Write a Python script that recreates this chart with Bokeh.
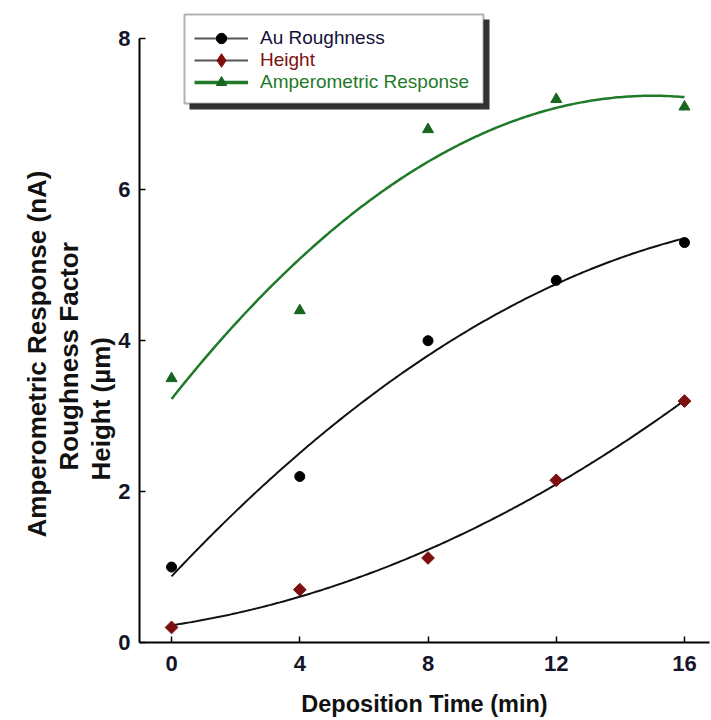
import numpy as np
from bokeh.plotting import figure
from bokeh.models import Range1d, Legend, LegendItem, BoxAnnotation, FixedTicker, Title
from bokeh.embed import file_html
from bokeh.resources import INLINE

# ---- data ----
deposition_time = [0, 4, 8, 12, 16]
au_roughness = [1.0, 2.2, 4.0, 4.8, 5.3]
height = [0.2, 0.7, 1.12, 2.15, 3.2]
amperometric = [3.5, 4.4, 6.8, 7.2, 7.1]
x_ticks = [0, 4, 8, 12, 16]
y_ticks = [0, 2, 4, 6, 8]
y_title_lines = ["Amperometric Response (nA)", "Roughness Factor", "Height  (\u00b5m)"]
x_title = "Deposition Time (min)"

# quadratic trend lines (as in the original), fitted from the data
x_fit = np.linspace(0, 16, 200)
au_fit = np.polyval(np.polyfit(deposition_time, au_roughness, 2), x_fit)
h_fit = np.polyval(np.polyfit(deposition_time, height, 2), x_fit)
amp_fit = np.polyval(np.polyfit(deposition_time, amperometric, 2), x_fit)

# ---- layout geometry ----
FRAME_W, FRAME_H = 570, 630
X0, X1 = -1, 16.78
Y0, Y1 = 0, 8.35
LEFT_B, TOP_B = 139, 12
FL = LEFT_B + 2      # frame left on picture (observed offset)
FT = TOP_B           # frame top on picture
FB = FT + FRAME_H    # frame bottom on picture


def dx(px):
    return X0 + (px - FL) * (X1 - X0) / FRAME_W


def dy(py):
    return Y0 + (FB - py) * (Y1 - Y0) / FRAME_H


p = figure(frame_width=FRAME_W, frame_height=FRAME_H,
           x_range=Range1d(X0, X1), y_range=Range1d(Y0, Y1),
           output_backend="svg", toolbar_location=None,
           min_border_left=LEFT_B, min_border_right=1,
           min_border_top=TOP_B, min_border_bottom=0)
p.outline_line_color = None
p.grid.visible = False
p.background_fill_color = "white"

GREEN = "#1f7a2a"
MGREEN = "#17651f"
DRED = "#7d0f0f"

amp_line = p.line(x_fit, amp_fit, line_color=GREEN, line_width=2.5)
au_line = p.line(x_fit, au_fit, line_color="#111111", line_width=2)
h_line = p.line(x_fit, h_fit, line_color="#111111", line_width=2)

p.scatter(deposition_time, amperometric, marker="triangle", size=11,
          fill_color=MGREEN, line_color=MGREEN)
p.scatter(deposition_time, au_roughness, marker="circle", size=10,
          fill_color="black", line_color="black")
p.scatter(deposition_time, height, marker="square", angle=np.pi / 4, size=9,
          fill_color=DRED, line_color=DRED)

# legend-only glyphs (a single NaN point: nothing is drawn in the plot)
nan = [float("nan")]
lg_au_line = p.line(nan, nan, line_color="#555555", line_width=2)
lg_au_pt = p.scatter(nan, nan, marker="circle", fill_color="black", line_color="black")
lg_h_line = p.line(nan, nan, line_color="#555555", line_width=2)
lg_h_pt = p.scatter(nan, nan, marker="diamond", fill_color=DRED, line_color=DRED)
lg_amp_line = p.line(nan, nan, line_color=GREEN, line_width=3.5)
lg_amp_pt = p.scatter(nan, nan, marker="triangle", fill_color=MGREEN, line_color=MGREEN)

# axes
for ax in (p.xaxis[0], p.yaxis[0]):
    ax.axis_line_color = "black"
    ax.axis_line_width = 2
    ax.major_tick_in = 6
    ax.major_tick_out = 0
    ax.major_tick_line_color = "black"
    ax.major_tick_line_width = 1.5
    ax.minor_tick_line_color = None
    ax.major_label_text_font = "Liberation Sans"
    ax.major_label_text_font_style = "bold"
    ax.major_label_text_font_size = "22px"
    ax.major_label_text_color = "#15152a"
    ax.axis_label_text_font = "Liberation Sans"
    ax.axis_label_text_font_style = "bold"
    ax.axis_label_text_color = "#111111"

p.xaxis.ticker = FixedTicker(ticks=x_ticks)
p.yaxis.ticker = FixedTicker(ticks=y_ticks)
p.yaxis.bounds = (0, 8)
p.xaxis.major_label_standoff = 13
p.yaxis.major_label_standoff = 9
p.xaxis.axis_label = x_title
p.xaxis.axis_label_text_font_size = "23.5px"
p.xaxis.axis_label_standoff = 17

# small invisible spacer between the axis and the y title lines
p.add_layout(Title(text="\u00a0", text_font_size="10px", text_color=None, standoff=0), "left")

# three-line y title as stacked side titles (nearest to the axis first);
# offsets shift each line up from the bottom of the frame
title_offsets = [105, 172, 162]
for text, off in reversed(list(zip(y_title_lines, title_offsets))):
    p.add_layout(Title(text=text, align="left", offset=off, standoff=0,
                       text_font="Liberation Sans", text_font_style="bold",
                       text_font_size="26px", text_color="#111111"), "left")

# legend frame with drop shadow
shadow = BoxAnnotation(left=dx(191), right=dx(491), top=dy(19), bottom=dy(109),
                       fill_color="#333333", fill_alpha=1.0, line_color=None)
box = BoxAnnotation(left=dx(186), right=dx(485), top=dy(14), bottom=dy(103),
                    fill_color="white", fill_alpha=1.0, line_color="black", line_width=2)
p.add_layout(shadow)
p.add_layout(box)

rows = [
    ("Au Roughness", [lg_au_line, lg_au_pt], "#121238", 38, 26),
    ("Height", [lg_h_line, lg_h_pt], DRED, 60, 34),
    ("Amperometric Response", [lg_amp_line, lg_amp_pt], GREEN, 82, 26),
]
for label, rends, color, cy, gh in rows:
    leg = Legend(items=[LegendItem(label=label, renderers=rends)],
                 location=(196 - FL, FB - cy - gh / 2),
                 padding=0, margin=0, spacing=0,
                 glyph_width=54, glyph_height=gh, label_height=gh,
                 label_standoff=12,
                 label_text_font="Liberation Sans", label_text_font_size="19px",
                 label_text_color=color, label_text_baseline="middle",
                 border_line_color=None, background_fill_alpha=0)
    p.add_layout(leg, "center")

open("out.html", "w").write(file_html(p, INLINE))
